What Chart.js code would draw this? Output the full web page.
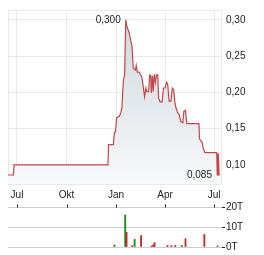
<!DOCTYPE html>
<html><head><meta charset="utf-8">
<script src="https://cdn.jsdelivr.net/npm/chart.js@4/dist/chart.umd.min.js"></script>
<style>
html,body{margin:0;padding:0;background:#fff;}
#wrap{position:relative;width:264px;height:255px;}
canvas{position:absolute;left:0;top:0;}
</style>
</head><body>
<div id="wrap"><canvas id="p" width="264" height="255"></canvas><canvas id="v" width="264" height="255"></canvas></div>
<script>
// x values are days counted from 1 July (first month tick)
const monthTicks = [0, 92, 184, 275, 366];
const monthLabels = ['Jul', 'Okt', 'Jan', 'Apr', 'Jul'];
const priceTicks = [0.10, 0.15, 0.20, 0.25, 0.30];
const priceDays = [-17, -6.5, -5.5, 169, 170, 179, 181, 183, 185, 190, 193, 195, 197.5, 200, 202, 203.5, 205, 207, 208.5, 211, 213.5, 216, 220, 221.5, 223.5, 227, 229.5, 232, 234.5, 237, 239.5, 241.5, 244.5, 246.5, 248.5, 249.5, 251.5, 253, 255, 257, 259, 261.5, 263, 266, 269.5, 272, 275, 278, 280, 282.5, 286, 288.5, 291, 293.5, 295.5, 298.5, 301.5, 304, 308, 310, 313, 315.5, 338, 339, 341.5, 343.5, 346, 349, 371, 372, 373, 374, 375.5, 377];
const prices = [0.086, 0.086, 0.100, 0.100, 0.128, 0.128, 0.145, 0.145, 0.165, 0.167, 0.172, 0.180, 0.215, 0.225, 0.300, 0.293, 0.289, 0.285, 0.282, 0.272, 0.265, 0.233, 0.231, 0.237, 0.228, 0.228, 0.224, 0.221, 0.208, 0.194, 0.206, 0.201, 0.201, 0.224, 0.223, 0.199, 0.223, 0.201, 0.225, 0.214, 0.224, 0.224, 0.192, 0.187, 0.187, 0.206, 0.206, 0.214, 0.211, 0.188, 0.188, 0.206, 0.204, 0.185, 0.178, 0.172, 0.169, 0.160, 0.158, 0.174, 0.175, 0.157, 0.157, 0.136, 0.133, 0.132, 0.123, 0.117, 0.117, 0.086, 0.115, 0.115, 0.085, 0.085];
const volTicks = [0, 10, 20];
const volDays = [181, 201, 203.5, 214, 218.5, 230.5, 250, 253, 255.5, 279.5, 286.5, 294, 306, 313, 348, 372.5];
const volumes = [1, 16, 7.3, 0.7, 3.8, 5.7, 0.5, 1, 2.2, 0.8, 0.7, 0.8, 0.8, 4.1, 6.3, 0.6]; // thousands
const volUp = [1, 1, 0, 0, 1, 0, 0, 0, 0, 0, 0, 0, 1, 0, 0, 0];

const FONT = {family: '"Liberation Sans", Arial, sans-serif', size: 10};
const TXT = '#222';
const GRID = '#e8e8e8';
const fmt = v => v.toFixed(3).replace('.', ',');

const boxPlugin = {
  id: 'box',
  beforeDatasetsDraw(c) {
    const a = c.chartArea, x = c.ctx;
    x.save(); x.strokeStyle = GRID; x.lineWidth = 1;
    x.strokeRect(Math.round(a.left) + 0.5, Math.round(a.top) + 0.5, Math.round(a.right - a.left) - 1, Math.round(a.bottom - a.top));
    x.restore();
  }
};
const labelPlugin = {
  id: 'lbl',
  afterDatasetsDraw(c) {
    const xs = c.scales.x, ys = c.scales.y, ctx = c.ctx;
    let mi = 0;
    prices.forEach((p, i) => { if (p > prices[mi]) mi = i; });
    const li = prices.length - 1;
    ctx.save();
    ctx.font = '10px "Liberation Sans", Arial, sans-serif';
    ctx.fillStyle = TXT; ctx.textAlign = 'right'; ctx.textBaseline = 'middle';
    ctx.fillText(fmt(prices[mi]), xs.getPixelForValue(priceDays[mi]) - 5, ys.getPixelForValue(prices[mi]));
    ctx.fillText(fmt(prices[li]), xs.getPixelForValue(priceDays[li]) - 8, ys.getPixelForValue(prices[li]));
    ctx.restore();
  }
};

new Chart(document.getElementById('p'), {
  type: 'line',
  data: {datasets: [{
    data: priceDays.map((d, i) => ({x: d, y: prices[i]})),
    borderColor: '#c4464a', borderWidth: 1.2, pointRadius: 0, tension: 0,
    fill: 'start',
    backgroundColor: (ctx) => {
      const a = ctx.chart.chartArea;
      if (!a) return 'rgba(210,218,224,0.6)';
      const g = ctx.chart.ctx.createLinearGradient(0, a.top, 0, a.bottom);
      g.addColorStop(0, '#cdd6dd');
      g.addColorStop(1, '#f8f9fa');
      return g;
    }
  }]},
  options: {
    responsive: false, animation: false, events: [],
    layout: {padding: {left: 8, top: 7, right: 0, bottom: 55}},
    plugins: {legend: {display: false}, tooltip: {enabled: false}},
    scales: {
      x: {
        type: 'linear', min: -16.7, max: 380.8,
        afterBuildTicks: s => { s.ticks = monthTicks.map(v => ({value: v})); },
        afterFit: s => { s.height = 16; },
        ticks: {callback: (v, i) => monthLabels[i], font: FONT, color: TXT, padding: 5, maxRotation: 0, autoSkip: false},
        grid: {color: GRID, drawTicks: false},
        border: {display: false}
      },
      y: {
        position: 'right', min: 0.0736, max: 0.3136,
        afterBuildTicks: s => { s.ticks = priceTicks.map(v => ({value: v})); },
        afterFit: s => { s.width = 42; },
        ticks: {callback: v => v.toFixed(2).replace('.', ','), font: FONT, color: TXT, padding: 4},
        grid: {color: GRID, drawTicks: false},
        border: {display: false}
      }
    }
  },
  plugins: [boxPlugin, labelPlugin]
});

const topTicks = {
  id: 'topTicks',
  afterDraw(c) {
    const xs = c.scales.x, ctx = c.ctx, t = c.chartArea.top;
    ctx.save(); ctx.strokeStyle = '#222'; ctx.lineWidth = 1;
    monthTicks.forEach(v => {
      const px = Math.round(xs.getPixelForValue(v)) + 0.5;
      ctx.beginPath(); ctx.moveTo(px, t - 2.5); ctx.lineTo(px, t + 0.5); ctx.stroke();
    });
    ctx.restore();
  }
};

new Chart(document.getElementById('v'), {
  type: 'bar',
  data: {datasets: [{
    data: volDays.map((d, i) => ({x: d, y: volumes[i]})),
    backgroundColor: volUp.map(u => u ? '#178c17' : '#c42828'),
    barThickness: 1.2
  }]},
  options: {
    responsive: false, animation: false, events: [],
    layout: {padding: {left: 8, top: 207, right: 0, bottom: 8}},
    plugins: {legend: {display: false}, tooltip: {enabled: false}},
    scales: {
      x: {type: 'linear', min: -16.7, max: 380.8, display: false, offset: false},
      y: {
        position: 'right', min: 0, max: 20,
        afterBuildTicks: s => { s.ticks = volTicks.map(v => ({value: v})); },
        afterFit: s => { s.width = 42; },
        ticks: {callback: v => v + 'T', font: FONT, color: TXT, padding: 1},
        grid: {color: '#cccccc', tickColor: '#222', tickLength: 3},
        border: {display: false}
      }
    }
  },
  plugins: [topTicks]
});
</script>
</body></html>
